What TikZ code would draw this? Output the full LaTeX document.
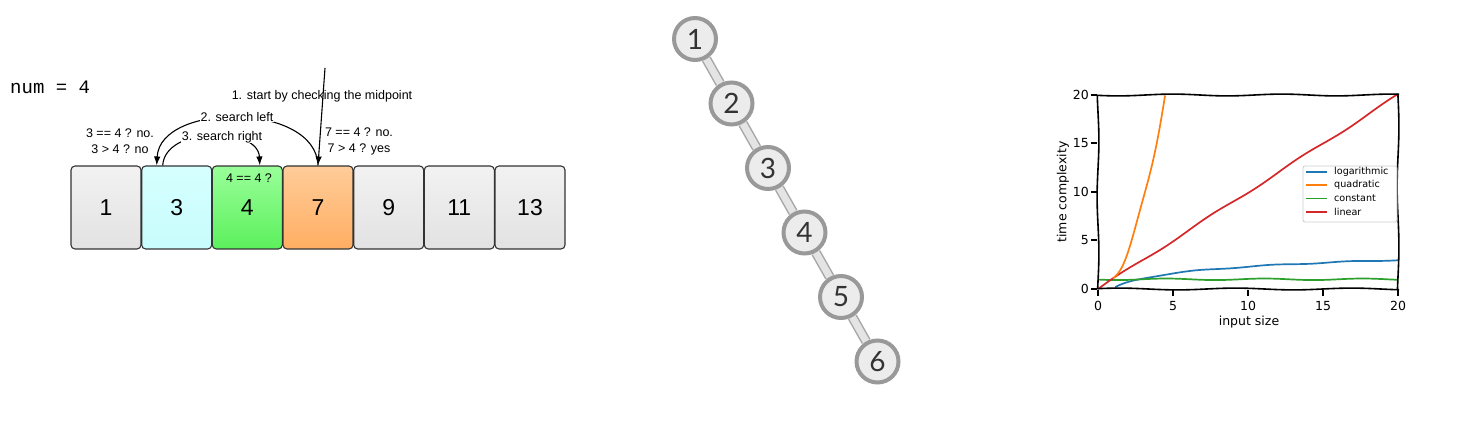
\documentclass[tikz,border=0pt]{standalone}
\usepackage{fontspec}
\setmainfont{Liberation Sans}
\newfontfamily\latofont{Lato}
\newfontfamily\dejafont{DejaVu Sans}
\newfontfamily\codefont{Liberation Mono}
\usetikzlibrary{arrows.meta,backgrounds}
\definecolor{cellborder}{HTML}{333333}
\definecolor{graytop}{HTML}{F2F2F2}
\definecolor{graybot}{HTML}{E2E2E2}
\definecolor{cyantop}{HTML}{D6FFFF}
\definecolor{cyanbot}{HTML}{C8FCFC}
\definecolor{greentop}{HTML}{99FF99}
\definecolor{greenbot}{HTML}{5CF05C}
\definecolor{orangetop}{HTML}{FFCC99}
\definecolor{orangebot}{HTML}{FFAE62}
\definecolor{treeborder}{HTML}{999999}
\definecolor{treefill}{HTML}{ECECEC}
\definecolor{treetext}{HTML}{333333}
\definecolor{edgeout}{HTML}{A8A8A8}
\definecolor{edgein}{HTML}{E4E4E4}
\definecolor{mblue}{HTML}{1F77B4}
\definecolor{morange}{HTML}{FF7F0E}
\definecolor{mgreen}{HTML}{2CA02C}
\definecolor{mred}{HTML}{D62728}
\definecolor{legborder}{HTML}{CCCCCC}
\begin{document}
\begin{tikzpicture}[x=1pt,y=-1pt,
  cell/.style={draw=cellborder, line width=1.1pt, rounded corners=4pt,
    minimum width=70pt, minimum height=83pt, inner sep=0pt,
    font=\fontsize{23}{26}\selectfont},
  graycell/.style={cell, top color=graytop, bottom color=graybot},
  lbl/.style={font=\fontsize{12.5}{14}\selectfont, inner sep=0.5pt},
  arr/.style={line width=1.1pt, -{Latex[length=9pt,width=6.5pt]}},
  tnode/.style={circle, draw=treeborder, line width=4pt, fill=treefill,
    minimum size=42pt, inner sep=0pt, text=treetext,
    font=\latofont\fontsize{28}{30}\selectfont},
  tedgeout/.style={line width=10pt, edgeout},
  tedgein/.style={line width=7pt, edgein},
  axisline/.style={line width=1.6pt, black},
  tickmark/.style={line width=2pt, black},
  ticklbl/.style={font=\dejafont\fontsize{12.5}{14}\selectfont, inner sep=1pt},
  curve/.style={line width=1.7pt},
  legtext/.style={font=\dejafont\fontsize{9.6}{11}\selectfont, anchor=west, inner sep=0pt}
]
\useasboundingbox (0,0) rectangle (1480,430);

% ---------- left panel ----------
\node[anchor=west, font=\codefont\fontsize{19}{21}\selectfont, inner sep=0pt] (num) at (10,87) {num = 4};

\node[graycell] (b1) at (106,207.5) {1};
\node[cell, top color=cyantop, bottom color=cyanbot] (b2) at (176.7,207.5) {3};
\node[cell, top color=greentop, bottom color=greenbot] (b3) at (247.3,207.5) {4};
\node[cell, top color=orangetop, bottom color=orangebot] (b4) at (318,207.5) {7};
\node[graycell] (b5) at (388.7,207.5) {9};
\node[graycell] (b6) at (459.3,207.5) {11};
\node[graycell] (b7) at (530,207.5) {13};

\coordinate (start) at (325,68);
\draw[arr] (start) -- (b4.north);
\draw[arr] (b4.north) .. controls (316,102) and (160,102) .. ([xshift=-20pt]b2.north);
\draw[arr] ([xshift=-14pt]b2.north) .. controls (165,126) and (258,126) .. ([xshift=12.5pt]b3.north);

\node[lbl] (l1) at (322,96) {1. start by checking the midpoint};
\node[lbl, fill=white] (l2) at (237,117) {2. search left};
\node[lbl, fill=white] (l3) at (222,137) {3. search right};
\node[lbl, align=center] (l4) at (120,141) {3 == 4 ? no.\\[2pt]3 > 4 ? no};
\node[lbl, align=center] (l5) at (359,141) {7 == 4 ? no.\\[2pt]7 > 4 ? yes};
\node[lbl] (l6) at (249,178) {4 == 4 ?};

% ---------- tree ----------
\node[tnode] (t1) at (695,39) {1};
\node[tnode] (t2) at (731.5,103.5) {2};
\node[tnode] (t3) at (768,168) {3};
\node[tnode] (t4) at (804.5,232.5) {4};
\node[tnode] (t5) at (841,297) {5};
\node[tnode] (t6) at (877.5,361.5) {6};
\begin{scope}[on background layer]
  \foreach \a/\b in {t1/t2,t2/t3,t3/t4,t4/t5,t5/t6}{
    \draw[tedgeout] (\a) -- (\b);
    \draw[tedgein] (\a) -- (\b);
  }
\end{scope}

% ---------- chart ----------
\draw[curve, mblue] plot[domain=1.15:20, samples=80, smooth]
  ({1098+15*\x}, {289-9.7*(ln(\x)+0.05*sin(70*\x))});
\draw[curve, mgreen] plot[domain=0:20, samples=80, smooth]
  ({1098+15*\x}, {289-9.7*(1+0.08*sin(55*\x+200))});
\draw[curve, mred] plot[domain=0:20, samples=100, smooth]
  ({1098+15*\x}, {289-9.7*(\x+0.12*sin(60*\x))});
\draw[curve, morange] plot[domain=1:4.47, samples=40, smooth]
  ({1098+15*\x}, {289-9.7*(\x*\x+0.3*sin(160*\x))});

% wavy frame
\draw[axisline] plot[domain=1097:1399, samples=60, smooth] (\x, {95+0.9*sin(3.3*\x)});
\draw[axisline] plot[domain=1097:1399, samples=60, smooth] (\x, {289+0.9*sin(3.1*\x+40)});
\draw[axisline] plot[domain=95:289, samples=40, smooth] ({1098+0.9*sin(3.2*\x)}, \x);
\draw[axisline] plot[domain=95:289, samples=40, smooth] ({1398+0.9*sin(3.0*\x+70)}, \x);

% ticks
\foreach \v in {0,5,10,15,20}{
  \draw[tickmark] (1091,{289-9.7*\v}) -- (1097,{289-9.7*\v});
  \node[ticklbl, anchor=east] at (1090,{289-9.7*\v}) {\v};
  \draw[tickmark] ({1098+15*\v},290) -- ({1098+15*\v},296);
  \node[ticklbl] at ({1098+15*\v},306) {\v};
}
\node[ticklbl] (xlab) at (1249,322) {input size};
\node[ticklbl, rotate=90] (ylab) at (1063,192) {time complexity};

% legend
\draw[legborder, fill=white, fill opacity=0.85, line width=0.8pt, rounded corners=2pt] (1303,166) rectangle (1397,222);
\draw[curve, mblue] (1306,172) -- (1327,172);
\node[legtext] at (1334,172) {logarithmic};
\draw[curve, morange] (1306,185) -- (1327,185);
\node[legtext] at (1334,185) {quadratic};
\draw[curve, mgreen] (1306,198.5) -- (1327,198.5);
\node[legtext] at (1334,198.5) {constant};
\draw[curve, mred] (1306,212) -- (1327,212);
\node[legtext] at (1334,212) {linear};
\end{tikzpicture}
\end{document}
